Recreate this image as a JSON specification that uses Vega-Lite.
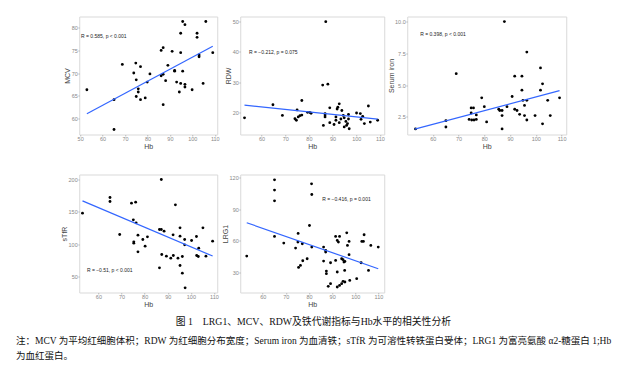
{
"$schema": "https://vega.github.io/schema/vega-lite/v6.json",
"padding": {"left": 16, "top": 15.5, "right": 2, "bottom": 2},
"background": "white",
"config": {
  "font": "Liberation Sans",
  "view": {"stroke": "#d9d9d9", "strokeWidth": 1},
  "axis": {"domain": false, "grid": false, "tickSize": 1.5, "tickCount": 20, "tickColor": "#999", "tickWidth": 0.6, "labelFontSize": 5.5, "labelColor": "#888", "labelPadding": 0.5, "labelOverlap": false, "labelFlush": false, "titleFontSize": 7, "titleFontWeight": "normal", "titleColor": "#444", "titlePadding": 0.5},
  "circle": {"color": "#000", "size": 8, "opacity": 1},
  "line": {"color": "#3366FF", "strokeWidth": 1.2},
  "text": {"align": "left", "fontSize": 5, "color": "#222"}
},
"datasets": {
  "mcv": [{"Hb":53.0,"MCV":66.3},{"Hb":65.1,"MCV":57.5},{"Hb":65.1,"MCV":64.1},{"Hb":68.8,"MCV":71.9},{"Hb":73.9,"MCV":70.0},{"Hb":74.8,"MCV":72.2},{"Hb":75.0,"MCV":68.5},{"Hb":75.0,"MCV":64.8},{"Hb":75.9,"MCV":66.5},{"Hb":75.9,"MCV":65.8},{"Hb":76.9,"MCV":71.4},{"Hb":76.9,"MCV":64.1},{"Hb":79.0,"MCV":64.5},{"Hb":79.9,"MCV":68.0},{"Hb":81.1,"MCV":69.8},{"Hb":86.1,"MCV":75.0},{"Hb":86.1,"MCV":69.4},{"Hb":87.0,"MCV":75.6},{"Hb":87.0,"MCV":69.7},{"Hb":87.0,"MCV":63.0},{"Hb":88.1,"MCV":68.3},{"Hb":89.1,"MCV":71.7},{"Hb":91.0,"MCV":74.8},{"Hb":92.1,"MCV":70.6},{"Hb":92.1,"MCV":70.4},{"Hb":93.0,"MCV":68.0},{"Hb":94.2,"MCV":65.8},{"Hb":94.8,"MCV":78.8},{"Hb":94.8,"MCV":74.5},{"Hb":94.8,"MCV":67.7},{"Hb":95.7,"MCV":81.4},{"Hb":95.7,"MCV":70.4},{"Hb":96.7,"MCV":80.7},{"Hb":96.7,"MCV":67.5},{"Hb":96.7,"MCV":66.9},{"Hb":99.9,"MCV":66.3},{"Hb":102.1,"MCV":78.8},{"Hb":102.1,"MCV":77.9},{"Hb":103.0,"MCV":74.0},{"Hb":103.0,"MCV":73.6},{"Hb":104.8,"MCV":67.7},{"Hb":106.0,"MCV":81.4},{"Hb":109.1,"MCV":74.5}],
  "mcvFit": [{"Hb":53.0,"MCV":61.0},{"Hb":109.1,"MCV":75.9}],
  "rdw": [{"Hb":52.8,"RDW":18.2},{"Hb":64.8,"RDW":22.5},{"Hb":68.8,"RDW":19.0},{"Hb":74.1,"RDW":17.9},{"Hb":74.7,"RDW":17.4},{"Hb":75.0,"RDW":20.8},{"Hb":75.5,"RDW":18.5},{"Hb":76.2,"RDW":18.9},{"Hb":77.0,"RDW":19.1},{"Hb":77.0,"RDW":23.9},{"Hb":79.4,"RDW":20.0},{"Hb":80.3,"RDW":20.0},{"Hb":80.9,"RDW":19.7},{"Hb":85.8,"RDW":29.0},{"Hb":86.1,"RDW":15.7},{"Hb":86.8,"RDW":19.6},{"Hb":86.8,"RDW":19.1},{"Hb":86.8,"RDW":18.5},{"Hb":87.1,"RDW":49.9},{"Hb":88.0,"RDW":29.3},{"Hb":88.8,"RDW":21.5},{"Hb":88.8,"RDW":16.6},{"Hb":90.6,"RDW":16.0},{"Hb":91.4,"RDW":17.4},{"Hb":91.4,"RDW":18.5},{"Hb":91.9,"RDW":21.1},{"Hb":92.2,"RDW":21.7},{"Hb":92.8,"RDW":22.8},{"Hb":92.8,"RDW":16.6},{"Hb":93.5,"RDW":17.8},{"Hb":93.9,"RDW":20.6},{"Hb":94.5,"RDW":19.0},{"Hb":94.9,"RDW":18.2},{"Hb":94.9,"RDW":15.2},{"Hb":95.6,"RDW":17.0},{"Hb":95.9,"RDW":15.7},{"Hb":96.3,"RDW":16.3},{"Hb":96.7,"RDW":19.3},{"Hb":96.7,"RDW":17.8},{"Hb":97.0,"RDW":14.6},{"Hb":100.1,"RDW":19.8},{"Hb":101.7,"RDW":19.6},{"Hb":102.0,"RDW":17.7},{"Hb":102.7,"RDW":18.7},{"Hb":103.4,"RDW":16.3},{"Hb":105.1,"RDW":22.1},{"Hb":105.9,"RDW":16.8},{"Hb":109.0,"RDW":17.4}],
  "rdwFit": [{"Hb":52.8,"RDW":22.4},{"Hb":109.0,"RDW":17.8}],
  "iron": [{"Hb":53.3,"Iron":1.55},{"Hb":65.1,"Iron":2.2},{"Hb":65.1,"Iron":1.7},{"Hb":69.1,"Iron":5.9},{"Hb":74.1,"Iron":2.3},{"Hb":74.9,"Iron":2.8},{"Hb":74.9,"Iron":3.2},{"Hb":75.1,"Iron":2.25},{"Hb":75.8,"Iron":3.2},{"Hb":76.0,"Iron":2.25},{"Hb":76.9,"Iron":2.3},{"Hb":76.9,"Iron":2.65},{"Hb":79.0,"Iron":4.0},{"Hb":80.0,"Iron":3.3},{"Hb":80.9,"Iron":2.1},{"Hb":85.6,"Iron":3.1},{"Hb":86.0,"Iron":3.0},{"Hb":86.9,"Iron":3.0},{"Hb":86.9,"Iron":2.6},{"Hb":86.9,"Iron":1.55},{"Hb":87.8,"Iron":10.0},{"Hb":88.8,"Iron":3.3},{"Hb":90.8,"Iron":4.1},{"Hb":91.8,"Iron":5.7},{"Hb":91.8,"Iron":3.1},{"Hb":92.7,"Iron":3.0},{"Hb":93.7,"Iron":2.7},{"Hb":94.6,"Iron":5.7},{"Hb":94.6,"Iron":4.6},{"Hb":95.0,"Iron":3.8},{"Hb":95.6,"Iron":3.4},{"Hb":95.6,"Iron":2.6},{"Hb":96.5,"Iron":7.6},{"Hb":96.5,"Iron":3.8},{"Hb":96.5,"Iron":2.25},{"Hb":99.7,"Iron":2.6},{"Hb":101.8,"Iron":6.35},{"Hb":101.8,"Iron":4.6},{"Hb":102.6,"Iron":5.1},{"Hb":102.6,"Iron":1.95},{"Hb":104.6,"Iron":3.8},{"Hb":105.6,"Iron":2.6},{"Hb":109.2,"Iron":4.0}],
  "ironFit": [{"Hb":53.0,"Iron":1.53},{"Hb":109.2,"Iron":4.57}],
  "stfr": [{"Hb":53.1,"sTfR":148.1},{"Hb":65.0,"sTfR":172.3},{"Hb":65.0,"sTfR":166.1},{"Hb":69.2,"sTfR":115.2},{"Hb":74.3,"sTfR":163.5},{"Hb":75.1,"sTfR":137.8},{"Hb":75.3,"sTfR":101.8},{"Hb":75.3,"sTfR":103.9},{"Hb":76.1,"sTfR":165.1},{"Hb":76.3,"sTfR":133.2},{"Hb":77.1,"sTfR":114.2},{"Hb":77.1,"sTfR":88.5},{"Hb":79.2,"sTfR":107.5},{"Hb":80.2,"sTfR":97.2},{"Hb":81.2,"sTfR":111.6},{"Hb":86.4,"sTfR":122.9},{"Hb":86.4,"sTfR":63.8},{"Hb":87.2,"sTfR":200.0},{"Hb":87.2,"sTfR":122.9},{"Hb":87.4,"sTfR":84.4},{"Hb":88.4,"sTfR":120.3},{"Hb":89.4,"sTfR":81.8},{"Hb":91.3,"sTfR":78.7},{"Hb":92.3,"sTfR":114.7},{"Hb":92.4,"sTfR":82.8},{"Hb":93.3,"sTfR":161.0},{"Hb":94.4,"sTfR":78.7},{"Hb":95.3,"sTfR":125.5},{"Hb":95.3,"sTfR":112.6},{"Hb":95.3,"sTfR":67.4},{"Hb":96.3,"sTfR":81.3},{"Hb":96.3,"sTfR":55.6},{"Hb":97.3,"sTfR":107.5},{"Hb":97.3,"sTfR":99.3},{"Hb":97.5,"sTfR":33.0},{"Hb":100.3,"sTfR":106.0},{"Hb":102.4,"sTfR":112.1},{"Hb":102.5,"sTfR":82.8},{"Hb":103.2,"sTfR":81.3},{"Hb":103.4,"sTfR":94.1},{"Hb":105.2,"sTfR":125.5},{"Hb":106.5,"sTfR":81.8},{"Hb":109.4,"sTfR":104.9}],
  "stfrFit": [{"Hb":53.1,"sTfR":167.1},{"Hb":109.4,"sTfR":82.0}],
  "lrg1": [{"Hb":53.1,"LRG1":45.7},{"Hb":65.1,"LRG1":117.5},{"Hb":65.1,"LRG1":107.8},{"Hb":65.1,"LRG1":97.7},{"Hb":65.1,"LRG1":64.2},{"Hb":69.1,"LRG1":57.9},{"Hb":74.2,"LRG1":53.2},{"Hb":75.2,"LRG1":58.9},{"Hb":75.3,"LRG1":67.0},{"Hb":75.5,"LRG1":35.0},{"Hb":76.3,"LRG1":36.9},{"Hb":77.1,"LRG1":57.3},{"Hb":77.3,"LRG1":41.3},{"Hb":79.2,"LRG1":43.2},{"Hb":80.2,"LRG1":74.5},{"Hb":81.1,"LRG1":113.7},{"Hb":81.2,"LRG1":103.7},{"Hb":81.2,"LRG1":54.2},{"Hb":86.3,"LRG1":54.2},{"Hb":86.3,"LRG1":41.0},{"Hb":87.2,"LRG1":51.0},{"Hb":87.2,"LRG1":49.5},{"Hb":87.5,"LRG1":31.6},{"Hb":87.5,"LRG1":29.1},{"Hb":88.3,"LRG1":17.2},{"Hb":89.3,"LRG1":39.4},{"Hb":89.3,"LRG1":19.7},{"Hb":91.5,"LRG1":41.6},{"Hb":91.5,"LRG1":64.2},{"Hb":92.2,"LRG1":60.4},{"Hb":92.2,"LRG1":30.7},{"Hb":92.2,"LRG1":16.6},{"Hb":92.7,"LRG1":58.9},{"Hb":93.2,"LRG1":64.2},{"Hb":93.2,"LRG1":18.1},{"Hb":94.1,"LRG1":43.2},{"Hb":94.1,"LRG1":19.7},{"Hb":94.7,"LRG1":42.3},{"Hb":94.7,"LRG1":21.9},{"Hb":95.1,"LRG1":40.1},{"Hb":95.4,"LRG1":32.2},{"Hb":95.5,"LRG1":40.7},{"Hb":95.5,"LRG1":21.3},{"Hb":96.3,"LRG1":67.6},{"Hb":96.6,"LRG1":55.7},{"Hb":97.3,"LRG1":59.5},{"Hb":97.3,"LRG1":47.0},{"Hb":97.6,"LRG1":22.8},{"Hb":100.6,"LRG1":24.4},{"Hb":102.5,"LRG1":39.4},{"Hb":102.8,"LRG1":59.5},{"Hb":103.5,"LRG1":59.5},{"Hb":103.8,"LRG1":65.8},{"Hb":105.7,"LRG1":32.2},{"Hb":106.7,"LRG1":55.7},{"Hb":109.9,"LRG1":54.2}],
  "lrg1Fit": [{"Hb":53.1,"LRG1":77.1},{"Hb":109.9,"LRG1":33.8}]
},
"center": true,
"spacing": 8,
"vconcat": [
 {
  "columns": 3,
  "bounds": "flush",
  "spacing": {"row": 40, "column": 23},
  "title": {"text": "图 1\u2003LRG1、MCV、RDW及铁代谢指标与Hb水平的相关性分析", "orient": "bottom", "anchor": "middle", "offset": 9, "font": "Liberation Serif, Noto Sans CJK SC", "fontSize": 9.8, "fontWeight": "normal", "color": "#111"},
  "concat": [
   {
    "width": 138, "height": 118,
    "layer": [
     {"data": {"name": "mcv"}, "mark": "circle",
      "encoding": {
       "x": {"field": "Hb", "type": "quantitative", "title": "Hb", "scale": {"domain": [49.6, 111.1], "nice": false, "zero": false}, "axis": {"values": [50,60,70,80,90,100,110], "tickCount": 20}},
       "y": {"field": "MCV", "type": "quantitative", "title": "MCV", "scale": {"domain": [56.4, 82.5], "nice": false, "zero": false}, "axis": {"values": [60,65,70,75,80], "tickCount": 20}}}},
     {"data": {"name": "mcvFit"}, "mark": "line",
      "encoding": {"x": {"field": "Hb", "type": "quantitative"}, "y": {"field": "MCV", "type": "quantitative"}}},
     {"data": {"values": [{"label": "R = 0.585, p < 0.001"}]}, "mark": "text",
      "encoding": {"x": {"datum": 50.4}, "y": {"datum": 78.1}, "text": {"field": "label"}}}
    ]
   },
   {
    "width": 144, "height": 118,
    "layer": [
     {"data": {"name": "rdw"}, "mark": "circle",
      "encoding": {
       "x": {"field": "Hb", "type": "quantitative", "title": "Hb", "scale": {"domain": [51.0, 111.8], "nice": false, "zero": false}, "axis": {"values": [60,70,80,90,100,110], "tickCount": 20}},
       "y": {"field": "RDW", "type": "quantitative", "title": "RDW", "scale": {"domain": [12.7, 51.6], "nice": false, "zero": false}, "axis": {"values": [20,30,40,50], "tickCount": 20}}}},
     {"data": {"name": "rdwFit"}, "mark": "line",
      "encoding": {"x": {"field": "Hb", "type": "quantitative"}, "y": {"field": "RDW", "type": "quantitative"}}},
     {"data": {"values": [{"label": "R = −0.212, p = 0.075"}]}, "mark": "text",
      "encoding": {"x": {"datum": 54.7}, "y": {"datum": 40.0}, "text": {"field": "label"}}}
    ]
   },
   {
    "width": 159, "height": 118,
    "layer": [
     {"data": {"name": "iron"}, "mark": "circle",
      "encoding": {
       "x": {"field": "Hb", "type": "quantitative", "title": "Hb", "scale": {"domain": [50.1, 111.8], "nice": false, "zero": false}, "axis": {"values": [60,70,80,90,100,110], "tickCount": 20}},
       "y": {"field": "Iron", "type": "quantitative", "title": "Serum iron", "scale": {"domain": [1.11, 10.4], "nice": false, "zero": false}, "axis": {"values": [2.5,5,7.5,10], "format": ".1f", "tickCount": 20}}}},
     {"data": {"name": "ironFit"}, "mark": "line",
      "encoding": {"x": {"field": "Hb", "type": "quantitative"}, "y": {"field": "Iron", "type": "quantitative"}}},
     {"data": {"values": [{"label": "R = 0.398, p < 0.001"}]}, "mark": "text",
      "encoding": {"x": {"datum": 55.1}, "y": {"datum": 9.03}, "text": {"field": "label"}}}
    ]
   },
   {
    "width": 138, "height": 118,
    "layer": [
     {"data": {"name": "stfr"}, "mark": "circle",
      "encoding": {
       "x": {"field": "Hb", "type": "quantitative", "title": "Hb", "scale": {"domain": [51.7, 111.4], "nice": false, "zero": false}, "axis": {"values": [60,70,80,90,100,110], "tickCount": 20}},
       "y": {"field": "sTfR", "type": "quantitative", "title": "sTfR", "scale": {"domain": [25.8, 207.7], "nice": false, "zero": false}, "axis": {"values": [50,100,150,200], "tickCount": 20}}}},
     {"data": {"name": "stfrFit"}, "mark": "line",
      "encoding": {"x": {"field": "Hb", "type": "quantitative"}, "y": {"field": "sTfR", "type": "quantitative"}}},
     {"data": {"values": [{"label": "R = −0.51, p < 0.001"}]}, "mark": "text",
      "encoding": {"x": {"datum": 55.0}, "y": {"datum": 60.8}, "text": {"field": "label"}}}
    ]
   },
   {
    "width": 144, "height": 118,
    "layer": [
     {"data": {"name": "lrg1"}, "mark": "circle",
      "encoding": {
       "x": {"field": "Hb", "type": "quantitative", "title": "Hb", "scale": {"domain": [50.3, 112.5], "nice": false, "zero": false}, "axis": {"values": [60,70,80,90,100,110], "tickCount": 20}},
       "y": {"field": "LRG1", "type": "quantitative", "title": "LRG1", "scale": {"domain": [11.4, 122.5], "nice": false, "zero": false}, "axis": {"values": [30,60,90,120], "tickCount": 20}}}},
     {"data": {"name": "lrg1Fit"}, "mark": "line",
      "encoding": {"x": {"field": "Hb", "type": "quantitative"}, "y": {"field": "LRG1", "type": "quantitative"}}},
     {"data": {"values": [{"label": "R = −0.416, p = 0.001"}]}, "mark": "text",
      "encoding": {"x": {"datum": 85.7}, "y": {"datum": 99.7}, "text": {"field": "label"}}}
    ]
   }
  ]
 },
 {
  "width": 614, "height": 1,
  "view": {"stroke": null},
  "data": {"values": [{"blank": ""}]},
  "mark": {"type": "text"},
  "encoding": {"text": {"field": "blank"}},
  "title": {"text": ["\u2002\u2005注：MCV 为平均红细胞体积；RDW 为红细胞分布宽度；Serum iron 为血清铁；sTfR 为可溶性转铁蛋白受体；LRG1 为富亮氨酸 α2-糖蛋白 1;Hb", "为血红蛋白。"], "orient": "top", "anchor": "start", "frame": "group", "offset": 0, "font": "Liberation Serif, Noto Sans CJK SC", "fontSize": 9.5, "fontWeight": "normal", "lineHeight": 15, "color": "#111"}
 }
]
}
